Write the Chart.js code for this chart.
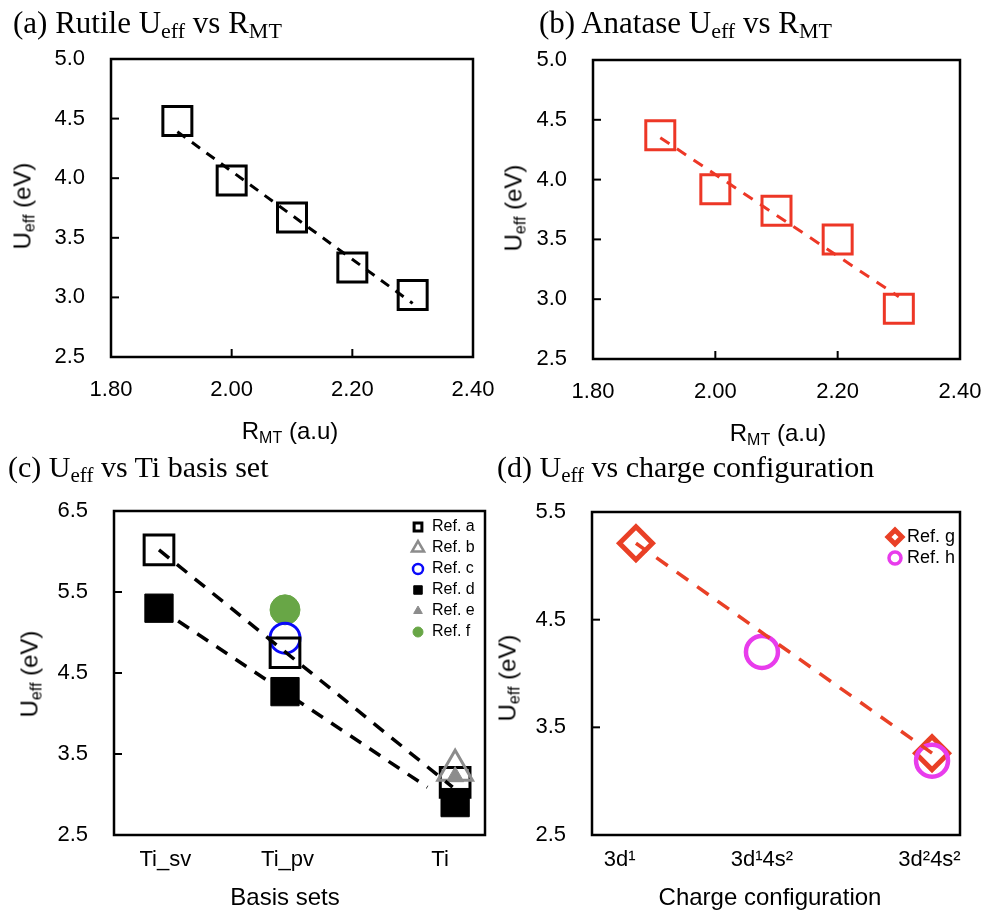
<!DOCTYPE html>
<html>
  <head>
    <meta charset="utf-8" />
    <script src="https://cdn.jsdelivr.net/npm/chart.js@4.4.0/dist/chart.umd.min.js"></script>
    <title>Ueff panels</title>
    <style>
      body { margin: 0; background: #fff; }
      #fig { position: relative; width: 987px; height: 918px; overflow: hidden; }
      #fig canvas { position: absolute; }
      .ttl { position: absolute; font-family: "Liberation Serif", "Times New Roman", serif; font-size: 31px; line-height: 1; white-space: nowrap; color: #000; }
      .ttl .sub { font-size: 22px; vertical-align: -5px; }
      .ttl.small { font-size: 30px; }
      .ttl.small .sub { font-size: 21px; }
      .ax { position: absolute; font-family: "Liberation Sans", Arial, sans-serif; font-size: 24px; line-height: 1; white-space: nowrap; color: #000; transform: translate(-50%, -50%); }
      .ax .sub { font-size: 16px; vertical-align: -4px; }
      .ax.rot { transform: translate(-50%, -50%) rotate(-90deg); }
    </style>
  </head>
  <body>
    <div id="fig">
      <canvas id="rutile" width="492" height="408" style="left:31px; top:19px"></canvas>
      <canvas id="anatase" width="497" height="409" style="left:513px; top:20px"></canvas>
      <canvas id="basis" width="501" height="434" style="left:34px; top:471px"></canvas>
      <canvas id="charge" width="498" height="433" style="left:512px; top:472px"></canvas>

      <div class="ttl" style="left:13px; top:7px">(a) Rutile U<span class="sub">eff</span> vs R<span class="sub">MT</span></div>
      <div class="ttl" style="left:539px; top:7px">(b) Anatase U<span class="sub">eff</span> vs R<span class="sub">MT</span></div>
      <div class="ttl small" style="left:8px; top:452px">(c) U<span class="sub">eff</span> vs Ti basis set</div>
      <div class="ttl small" style="left:497px; top:452px">(d) U<span class="sub">eff</span> vs charge configuration</div>

      <div class="ax rot" style="left:24px; top:206px">U<span class="sub">eff</span> (eV)</div>
      <div class="ax rot" style="left:515px; top:208px">U<span class="sub">eff</span> (eV)</div>
      <div class="ax rot" style="left:31px; top:674px">U<span class="sub">eff</span> (eV)</div>
      <div class="ax rot" style="left:509px; top:678px">U<span class="sub">eff</span> (eV)</div>

      <div class="ax" style="left:290px; top:432px">R<span class="sub">MT</span> (a.u)</div>
      <div class="ax" style="left:778px; top:434px">R<span class="sub">MT</span> (a.u)</div>
      <div class="ax" style="left:285px; top:897px">Basis sets</div>
      <div class="ax" style="left:770px; top:897px">Charge configuration</div>
    </div>

    <script>
      // (a), (b) : Ueff vs muffin-tin radius
      var rmt = [1.91, 2.0, 2.1, 2.2, 2.3];
      var rutileU = [4.48, 3.98, 3.67, 3.25, 3.02];
      var anataseU = [4.37, 3.92, 3.74, 3.5, 2.92];
      // dashed trend lines, end points
      var fitRmt = [1.91, 2.3];
      var rutileFitU = [4.39, 2.95];
      var anataseFitU = [4.35, 3.02];

      // (c) : Ti basis sets
      var basisSets = ["Ti_sv", "Ti_pv", "Ti"];
      var basisX = [1, 2, 3.35];
      var basisTickX = [1.05, 2.02, 3.23];
      var refA = [6.02, 4.75, 3.15];
      var refB = [null, null, 3.3];
      var refC = [null, 4.93, null];
      var refD = [5.3, 4.27, 2.9];
      var refE = [null, null, 3.22];
      var refF = [null, 5.28, null];
      var fitAX = [1, 3.33];
      var fitAU = [6.02, 3.09];
      var fitDX = [1, 3.13];
      var fitDU = [5.3, 3.09];

      // (d) : charge configuration
      var charges = ["3d¹", "3d¹4s²", "3d²4s²"];
      var chargeX = [1, 2, 3.35];
      var chargeTickX = [0.87, 2.0, 3.33];
      var refG = [5.21, null, 3.26];
      var refH = [null, 4.2, 3.19];

      var RED = "rgb(237,55,38)";
      var ORANGE = "rgb(233,64,38)";
      var MAGENTA = "rgb(232,60,236)";
      var GRAY = "rgb(140,140,140)";
      var BLUE = "rgb(10,10,250)";
      var GREEN = "rgb(104,166,70)";
      var NONE = "rgba(0,0,0,0)";

      Chart.defaults.font.family = '"Liberation Sans", Arial, sans-serif';
      Chart.defaults.font.size = 22;
      Chart.defaults.color = "#000";

      function pts(xs, ys) {
        var out = [];
        for (var i = 0; i < xs.length; i++) {
          if (ys[i] !== null) out.push({ x: xs[i], y: ys[i] });
        }
        return out;
      }

      function markers(label, xs, ys, style, r, color, fill, bw, legR, legBw) {
        return {
          label: label,
          data: pts(xs, ys),
          showLine: false,
          pointStyle: style,
          pointRadius: r,
          pointBorderWidth: bw,
          borderWidth: bw,
          borderColor: color,
          backgroundColor: fill,
          pointBorderColor: color,
          pointBackgroundColor: fill,
          legendRadius: legR,
          legendBorder: legBw,
        };
      }

      function trend(xs, ys, color, width, dash) {
        return {
          label: "",
          data: pts(xs, ys),
          showLine: true,
          spanGaps: true,
          pointRadius: 0,
          borderColor: color,
          borderWidth: width,
          borderDash: dash,
          tension: 0,
        };
      }

      // box round the plot area + inward tick marks
      var framePlugin = {
        id: "frame",
        afterDraw: function (chart, args, opts) {
          var ctx = chart.ctx;
          var a = chart.chartArea;
          ctx.save();
          ctx.strokeStyle = "#000";
          ctx.lineWidth = 2;
          var ys = chart.scales.y;
          ys.ticks.forEach(function (t) {
            var p = ys.getPixelForValue(t.value);
            ctx.beginPath();
            ctx.moveTo(a.left, p);
            ctx.lineTo(a.left + 8, p);
            ctx.stroke();
          });
          if (opts.xTicks) {
            var xs = chart.scales.x;
            xs.ticks.forEach(function (t) {
              var p = xs.getPixelForValue(t.value);
              ctx.beginPath();
              ctx.moveTo(p, a.bottom);
              ctx.lineTo(p, a.bottom - 8);
              ctx.stroke();
            });
          }
          ctx.lineWidth = 2.5;
          ctx.strokeRect(a.left, a.top, a.right - a.left, a.bottom - a.top);
          ctx.restore();
        },
      };

      // small legend in the top right corner of the plot
      var refLegend = {
        id: "refLegend",
        afterDraw: function (chart, args, opts) {
          if (!opts.show) return;
          var ctx = chart.ctx;
          var a = chart.chartArea;
          var items = chart.data.datasets.filter(function (d) { return d.legendRadius; });
          items.sort(function (p, q) { return p.label < q.label ? -1 : 1; });
          ctx.save();
          ctx.font = opts.size + 'px "Liberation Sans", Arial, sans-serif';
          ctx.textBaseline = "middle";
          items.forEach(function (d, i) {
            var y = a.top + opts.top + i * opts.step;
            var x = a.right - opts.right;
            ctx.fillStyle = d.backgroundColor;
            ctx.strokeStyle = d.borderColor;
            ctx.lineWidth = d.legendBorder;
            Chart.helpers.drawPoint(ctx, { pointStyle: d.pointStyle, radius: d.legendRadius, borderWidth: d.legendBorder, rotation: 0 }, x, y);
            ctx.fillStyle = "#000";
            ctx.fillText(d.label, x + opts.gap, y);
          });
          ctx.restore();
        },
      };

      function createGraph(elementId, datasets, xScale, yScale, frameOpts, legendOpts) {
        xScale.type = "linear";
        xScale.grid = { display: false, drawTicks: false };
        xScale.border = { display: false };
        xScale.afterFit = function (s) { s.height = 70; };
        yScale.type = "linear";
        yScale.grid = { display: false, drawTicks: false };
        yScale.border = { display: false };
        yScale.afterFit = function (s) { s.width = 80; };
        new Chart(document.getElementById(elementId), {
          type: "scatter",
          data: { datasets: datasets },
          options: {
            responsive: false,
            animation: false,
            events: [],
            // top padding has to exceed half a label + tick padding of the y axis
            layout: { autoPadding: false, padding: { top: 40, right: 50, left: 0, bottom: 0 } },
            scales: { x: xScale, y: yScale },
            plugins: {
              legend: { display: false },
              tooltip: { enabled: false },
              frame: frameOpts,
              refLegend: legendOpts,
            },
          },
          plugins: [framePlugin, refLegend],
        });
      }

      function rmtAxis() {
        return { min: 1.8, max: 2.4, ticks: { stepSize: 0.2, padding: 20, maxRotation: 0, callback: function (v) { return v.toFixed(2); } } };
      }
      function uAxis(min, max, step) {
        return { min: min, max: max, ticks: { stepSize: step, padding: 26, callback: function (v) { return v.toFixed(1); } } };
      }
      function catAxis(min, max, tickX, labels) {
        return {
          min: min,
          max: max,
          afterBuildTicks: function (s) { s.ticks = tickX.map(function (v) { return { value: v }; }); },
          ticks: { padding: 12, autoSkip: false, maxRotation: 0, callback: function (v, i) { return labels[i]; } },
        };
      }

      createGraph(
        "rutile",
        [
          trend(fitRmt, rutileFitU, "#000", 3, [10, 8]),
          markers("Rutile", rmt, rutileU, "rect", 20.5, "#000", NONE, 3),
        ],
        rmtAxis(), uAxis(2.5, 5.0, 0.5), { xTicks: true }, { show: false }
      );

      createGraph(
        "anatase",
        [
          trend(fitRmt, anataseFitU, RED, 3, [11, 9]),
          markers("Anatase", rmt, anataseU, "rect", 20.5, RED, NONE, 3),
        ],
        rmtAxis(), uAxis(2.5, 5.0, 0.5), { xTicks: true }, { show: false }
      );

      createGraph(
        "basis",
        [
          trend(fitAX, fitAU, "#000", 3.5, [13, 10]),
          trend(fitDX, fitDU, "#000", 3.5, [13, 10]),
          markers("Ref. b", basisX, refB, "triangle", 20, GRAY, NONE, 3, 7, 2.5),
          markers("Ref. e", basisX, refE, "triangle", 10, GRAY, GRAY, 1, 5, 1),
          markers("Ref. a", basisX, refA, "rect", 21, "#000", NONE, 3, 5.5, 3),
          markers("Ref. c", basisX, refC, "circle", 15, BLUE, NONE, 3, 5, 2.5),
          markers("Ref. f", basisX, refF, "circle", 15, GREEN, GREEN, 1, 5, 1),
          markers("Ref. d", basisX, refD, "rect", 20, "#000", "#000", 1, 6, 1),
        ],
        catAxis(0.643, 3.587, basisTickX, basisSets), uAxis(2.5, 6.5, 1), { xTicks: false },
        { show: true, size: 16, top: 16, step: 21, right: 67, gap: 14 }
      );

      createGraph(
        "charge",
        [
          trend(chargeX, refG, ORANGE, 3.5, [14, 11]),
          markers("Ref. h", chargeX, refH, "circle", 16, MAGENTA, NONE, 4.5, 6, 3.5),
          markers("Ref. g", chargeX, refG, "rectRot", 16.5, ORANGE, NONE, 5, 7, 5),
        ],
        catAxis(0.651, 3.572, chargeTickX, charges), uAxis(2.5, 5.5, 1), { xTicks: false },
        { show: true, size: 18, top: 25, step: 21, right: 65, gap: 12 }
      );
    </script>
  </body>
</html>
